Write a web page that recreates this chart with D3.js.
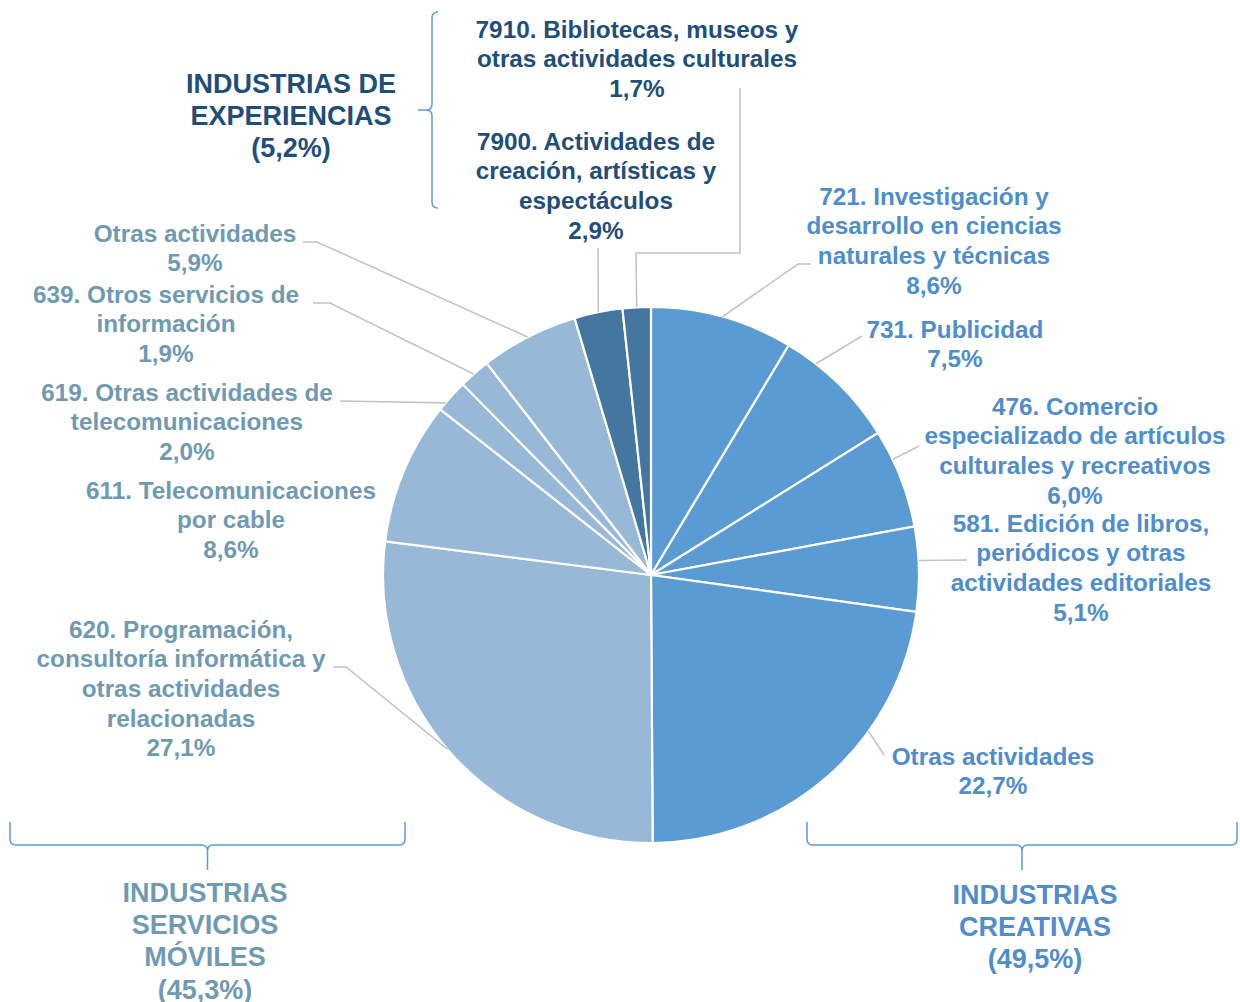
<!DOCTYPE html>
<html>
<head>
<meta charset="utf-8">
<script src="https://cdn.jsdelivr.net/npm/d3@7"></script>
<style>
  body { margin: 0; background: #fff; }
  svg text { font-family: "Liberation Sans", Arial, sans-serif; font-weight: bold; }
</style>
</head>
<body>
<div class="usable"></div>
<script>
// datos del gráfico (en orden horario desde las 12)
const codigos = ["721", "731", "476", "581", "otrasC", "620", "611", "619", "639", "otrasM", "7900", "7910"]
const valores = [8.6, 7.5, 6.0, 5.1, 22.7, 27.1, 8.6, 2.0, 1.9, 5.9, 2.9, 1.7]
const grupos = ["C", "C", "C", "C", "C", "M", "M", "M", "M", "M", "E", "E"]
const etiquetas = [
  ["721. Investigación y", "desarrollo en ciencias", "naturales y técnicas", "8,6%"],
  ["731. Publicidad", "7,5%"],
  ["476. Comercio", "especializado de artículos", "culturales y recreativos", "6,0%"],
  ["581. Edición de libros,", "periódicos y otras", "actividades editoriales", "5,1%"],
  ["Otras actividades", "22,7%"],
  ["620. Programación,", "consultoría informática y", "otras actividades", "relacionadas", "27,1%"],
  ["611. Telecomunicaciones", "por cable", "8,6%"],
  ["619. Otras actividades de", "telecomunicaciones", "2,0%"],
  ["639. Otros servicios de", "información", "1,9%"],
  ["Otras actividades", "5,9%"],
  ["7900. Actividades de", "creación, artísticas y", "espectáculos", "2,9%"],
  ["7910. Bibliotecas, museos y", "otras actividades culturales", "1,7%"]
]
const tituloGrupos = {
  E: ["INDUSTRIAS DE", "EXPERIENCIAS", "(5,2%)"],
  M: ["INDUSTRIAS", "SERVICIOS", "MÓVILES", "(45,3%)"],
  C: ["INDUSTRIAS", "CREATIVAS", "(49,5%)"]
}

const width = 1240, height = 1002
const cx = 651, cy = 575, radio = 268

const colorSector = { C: "#5b9bd3", M: "#97b8d7", E: "#44769f" }
const colorTexto = { C: "#4f8dcc", M: "#6f9ab2", E: "#1f4e79" }

// posición de las etiquetas: centro x, centro y de la primera línea,
// punto de salida de la guía (fracción del sector) y codos
const layoutEtiq = {
  "721": { x: 934, y: 196, f: 0.5, guia: [[798, 264], [811, 264]] },
  "731": { x: 955, y: 329, f: 0.26, guia: [[862, 336]] },
  "476": { x: 1075, y: 406, f: 0.3, guia: [[919, 446]] },
  "581": { x: 1081, y: 523, f: 0.4, guia: [[967, 560]] },
  "otrasC": { x: 993, y: 756, f: 0.34, guia: [[884, 755]] },
  "620": { x: 181, y: 629, f: 0.51, guia: [[346, 667], [333, 667]] },
  "611": { x: 231, y: 490, f: 0.5, guia: null },
  "619": { x: 187, y: 392, f: 0.25, guia: [[340, 401]] },
  "639": { x: 166, y: 294, f: 0.47, guia: [[330, 303], [313, 303]] },
  "otrasM": { x: 195, y: 233, f: 0.49, guia: [[317, 242], [303, 242]] },
  "7900": { x: 596, y: 141, f: 0.5, guia: [[598, 248]] },
  "7910": { x: 637, y: 29, f: 0.5, guia: [[636, 253], [740, 253], [740, 88]] }
}
const interlinea = 29.6

let svg = d3.select(".usable").append("svg")
  .attr("width", width)
  .attr("height", height)

const datos = codigos.map((c, i) => ({ codigo: c, valor: valores[i], grupo: grupos[i], lineas: etiquetas[i] }))

const pie = d3.pie().sort(null).value(d => d.valor)
const arcos = pie(datos)
const arco = d3.arc().innerRadius(0).outerRadius(radio)

let g = svg.append("g").attr("transform", `translate(${cx},${cy})`)

g.selectAll("path.sector")
  .data(arcos)
  .join("path")
  .attr("class", "sector")
  .attr("d", arco)
  .attr("fill", d => colorSector[d.data.grupo])
  .attr("stroke", "#fff")
  .attr("stroke-width", 2.2)

// guías de las etiquetas
arcos.forEach(a => {
  let lay = layoutEtiq[a.data.codigo]
  if (!lay.guia) return
  let ang = a.startAngle + (a.endAngle - a.startAngle) * lay.f
  let p0 = [cx + radio * Math.sin(ang), cy - radio * Math.cos(ang)]
  let pts = [p0].concat(lay.guia)
  svg.append("path")
    .attr("d", d3.line()(pts))
    .attr("fill", "none")
    .attr("stroke", "#c4c4c4")
    .attr("stroke-width", 1.6)
})

// etiquetas
arcos.forEach(a => {
  let lay = layoutEtiq[a.data.codigo]
  let t = svg.append("text")
    .attr("text-anchor", "middle")
    .attr("font-size", 24.3)
    .attr("fill", colorTexto[a.data.grupo])
  a.data.lineas.forEach((l, i) => {
    t.append("tspan").attr("x", lay.x).attr("y", lay.y + i * interlinea).attr("dy", "0.36em").text(l)
  })
})

// llaves de agrupación
function llaveHorizontal(x1, x2, y1, y2, punta) {
  let xm = (x1 + x2) / 2, r = 6
  return `M${x1},${y1} L${x1},${y2 - r} Q${x1},${y2} ${x1 + r},${y2} L${xm - r},${y2} Q${xm},${y2} ${xm},${y2 + r} L${xm},${punta} ` +
    `M${xm},${y2 + r} Q${xm},${y2} ${xm + r},${y2} L${x2 - r},${y2} Q${x2},${y2} ${x2},${y2 - r} L${x2},${y1}`
}
function llaveVertical(x, y1, y2, prof) {
  let ym = (y1 + y2) / 2, r = 6
  return `M${x + r},${y1} Q${x},${y1} ${x},${y1 + r} L${x},${ym - r} Q${x},${ym} ${x - r},${ym} L${x - prof},${ym} ` +
    `M${x - r},${ym} Q${x},${ym} ${x},${ym + r} L${x},${y2 - r} Q${x},${y2} ${x + r},${y2}`
}
svg.append("path").attr("d", llaveHorizontal(10, 405, 822, 845, 870))
  .attr("fill", "none").attr("stroke", "#5b9bd3").attr("stroke-width", 1.5)
svg.append("path").attr("d", llaveHorizontal(807, 1237, 822, 845, 870))
  .attr("fill", "none").attr("stroke", "#5b9bd3").attr("stroke-width", 1.5)
svg.append("path").attr("d", llaveVertical(432, 12, 208, 14))
  .attr("fill", "none").attr("stroke", "#5b9bd3").attr("stroke-width", 1.5)

// títulos de los grupos
const layoutGrupos = { E: { x: 291, y: 83 }, M: { x: 205, y: 892 }, C: { x: 1035, y: 894 } }
Object.keys(tituloGrupos).forEach(k => {
  let t = svg.append("text")
    .attr("text-anchor", "middle")
    .attr("font-size", 27)
    .attr("fill", colorTexto[k])
  tituloGrupos[k].forEach((l, i) => {
    t.append("tspan").attr("x", layoutGrupos[k].x).attr("y", layoutGrupos[k].y + i * 32.3).attr("dy", "0.36em").text(l)
  })
})
</script>
</body>
</html>
